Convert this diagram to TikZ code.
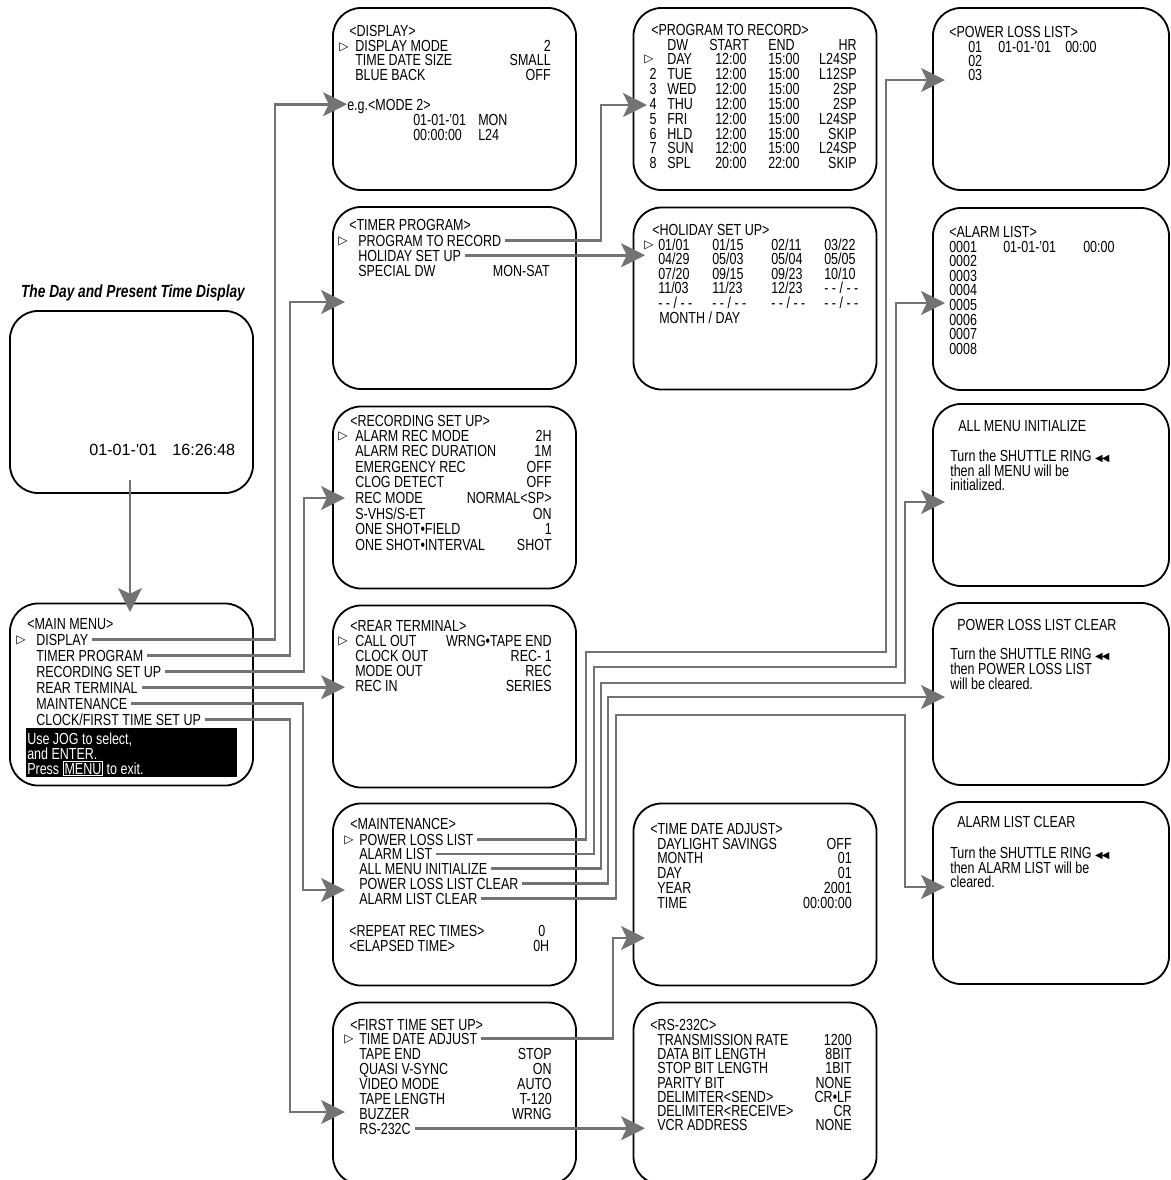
\documentclass[tikz,border=0pt]{standalone}
\usepackage{fontspec}
\setmainfont[FakeStretch=0.78]{Liberation Sans}
\newfontfamily\glyphfont{DejaVu Sans}
\newfontfamily\widefont{Liberation Sans}
\usetikzlibrary{arrows.meta}

\newcommand\ringsym{{\glyphfont\fontsize{7}{8}\selectfont ◀\kern-0.5pt◀}}

\tikzset{
  screen/.style={draw, line width=1.3pt, rounded corners=20pt,
    minimum width=6.075cm, minimum height=4.55cm, inner sep=0pt},
  sidescreen/.style={screen, minimum width=5.9cm},
  item/.style={anchor=base west, inner sep=0pt, text height=8.2pt, text depth=0pt},
  val/.style={item, anchor=base east},
  cursor/.style={inner sep=0pt, font=\glyphfont\fontsize{8.5}{9}\selectfont},
  link/.style={draw=black!55, line width=1.9pt, shorten <=2.5pt},
  into/.style={link, -{Stealth[length=17pt, width=17pt, inset=4pt]}},
}

\begin{document}
\begin{tikzpicture}[x=0.025cm, y=-0.025cm, font=\fontsize{11.4}{13}\selectfont]
\useasboundingbox (0,0) rectangle (1171,1180);

%-- screens
\node[screen] (day)   at (131.5, 402)    {};
\node[screen] (mainm) at (131.5, 694.5)  {};
\node[screen] (disp)  at (454.5, 99)     {};
\node[screen] (timer) at (454.5, 298)    {};
\node[screen] (recs)  at (454.5, 497.5)  {};
\node[screen] (rear)  at (454.5, 696.5)  {};
\node[screen] (maint) at (454.5, 894.5)  {};
\node[screen] (first) at (454.5, 1093.5) {};
\node[screen] (prog)  at (755, 99)       {};
\node[screen] (holi)  at (755, 298.5)    {};
\node[screen] (tda)   at (755, 894.5)    {};
\node[screen] (rs)    at (755, 1093.5)   {};
\node[sidescreen] (pll)   at (1051, 99)  {};
\node[sidescreen] (alist) at (1051, 299) {};
\node[sidescreen] (ami)   at (1051, 495) {};
\node[sidescreen] (pllc)  at (1051, 694) {};
\node[sidescreen] (alc)   at (1051, 893) {};

%-- day and present time display
\node[font=\bfseries\itshape\fontsize{12.5}{14}\selectfont] (day-title) at (133,293)
  {The Day and Present Time Display};
\node[item, font=\widefont\fontsize{11.5}{13}\selectfont] (day-date) at (89,455) {01-01-'01};
\node[item, font=\widefont\fontsize{11.5}{13}\selectfont] (day-time) at (172,455) {16:26:48};

%-- main menu
\node[item] (mm-title) at (27,629) {<MAIN MENU>};
\node[cursor] (mm-cur) at (21,640) {▷};
\foreach \t [count=\i] in {DISPLAY, TIMER PROGRAM, RECORDING SET UP, REAR TERMINAL,
    MAINTENANCE, CLOCK/FIRST TIME SET UP}
  \node[item] (mm\i) at (36, 629+16*\i) {\t};
\fill[black] (26,728) rectangle (237,777);
\node[item, text=white] (mm-hint1) at (27,744) {Use JOG to select,};
\node[item, text=white] (mm-hint2) at (27,759) {and ENTER.};
\node[item, text=white] (mm-hint3) at (27,774)
  {Press \setlength{\fboxsep}{0.6pt}\setlength{\fboxrule}{0.7pt}\fcolorbox{white}{black}{MENU} to exit.};

%-- display
\node[item] (d-title) at (349,36.5) {<DISPLAY>};
\node[cursor] (d-cur) at (344,47) {▷};
\foreach \t/\v [count=\i] in {DISPLAY MODE/2, TIME DATE SIZE/SMALL, BLUE BACK/OFF} {
  \node[item] (d\i)  at (355, 36.5+14.7*\i) {\t};
  \node[val]  (dv\i) at (551, 36.5+14.7*\i) {\v};
}
\node[item] (d-eg)  at (347,110) {e.g.<MODE 2>};
\node[item] (d-eg1) at (413,125) {01-01-'01};
\node[item] (d-eg2) at (478,125) {MON};
\node[item] (d-eg3) at (413,140) {00:00:00};
\node[item] (d-eg4) at (478,140) {L24};

%-- timer program
\node[item] (t-title) at (349,230) {<TIMER PROGRAM>};
\node[cursor] (t-cur) at (343,241) {▷};
\foreach \t/\v [count=\i] in {PROGRAM TO RECORD/, HOLIDAY SET UP/, SPECIAL DW/MON-SAT} {
  \node[item] (t\i)  at (358, 231+15*\i) {\t};
  \node[val]  (tv\i) at (550, 231+15*\i) {\v};
}

%-- recording set up
\node[item] (r-title) at (350,426) {<RECORDING SET UP>};
\node[cursor] (r-cur) at (343,436) {▷};
\foreach \t/\v [count=\i] in {ALARM REC MODE/2H, ALARM REC DURATION/1M, EMERGENCY REC/OFF,
    CLOG DETECT/OFF, REC MODE/NORMAL<SP>, {S-VHS/S-ET}/ON, ONE SHOT•FIELD/1,
    ONE SHOT•INTERVAL/SHOT} {
  \node[item] (r\i)  at (355, 425.4+15.6*\i) {\t};
  \node[val]  (rv\i) at (552, 425.4+15.6*\i) {\v};
}

%-- rear terminal
\node[item] (rt-title) at (350,631) {<REAR TERMINAL>};
\node[cursor] (rt-cur) at (343,641) {▷};
\foreach \t/\v [count=\i] in {CALL OUT/WRNG•TAPE END, CLOCK OUT/REC- 1, MODE OUT/REC, REC IN/SERIES} {
  \node[item] (rt\i)  at (355, 631+15*\i) {\t};
  \node[val]  (rtv\i) at (552, 631+15*\i) {\v};
}

%-- maintenance
\node[item] (m-title) at (350,829) {<MAINTENANCE>};
\node[cursor] (m-cur) at (349,840) {▷};
\foreach \t [count=\i] in {POWER LOSS LIST, ALARM LIST, ALL MENU INITIALIZE,
    POWER LOSS LIST CLEAR, ALARM LIST CLEAR}
  \node[item] (m\i) at (359, 830.25+14.75*\i) {\t};
\node[item] (m-rep)   at (349,936) {<REPEAT REC TIMES>};
\node[item] (m-repv)  at (538,936) {0};
\node[item] (m-ela)   at (349,951) {<ELAPSED TIME>};
\node[item] (m-elav)  at (533,951) {0H};

%-- first time set up
\node[item] (f-title) at (350,1030) {<FIRST TIME SET UP>};
\node[cursor] (f-cur) at (349,1039) {▷};
\foreach \t/\v [count=\i] in {TIME DATE ADJUST/, TAPE END/STOP, QUASI V-SYNC/ON, VIDEO MODE/AUTO,
    TAPE LENGTH/T-120, BUZZER/WRNG, RS-232C/} {
  \node[item] (f\i)  at (359, 1029+15*\i) {\t};
  \node[val]  (fv\i) at (552, 1029+15*\i) {\v};
}

%-- program to record
\node[item] (p-title) at (651,35) {<PROGRAM TO RECORD>};
\node[item] (p-dw)    at (667,50) {DW};
\node[item] (p-start) at (709,50) {START};
\node[item] (p-end)   at (768,50) {END};
\node[val]  (p-hr)    at (857,50) {HR};
\node[cursor] (p-cur) at (649,59.5) {▷};
\foreach \n/\d/\s/\e/\h [count=\i] in {/DAY/12:00/15:00/L24SP, 2/TUE/12:00/15:00/L12SP,
    3/WED/12:00/15:00/2SP, 4/THU/12:00/15:00/2SP, 5/FRI/12:00/15:00/L24SP,
    6/HLD/12:00/15:00/SKIP, 7/SUN/12:00/15:00/L24SP, 8/SPL/20:00/22:00/SKIP} {
  \node[item, anchor=base] (p\i-n) at (653, 50+14.85*\i) {\n};
  \node[item] (p\i-d) at (667, 50+14.85*\i) {\d};
  \node[item] (p\i-s) at (715, 50+14.85*\i) {\s};
  \node[item] (p\i-e) at (768, 50+14.85*\i) {\e};
  \node[val]  (p\i-h) at (857, 50+14.85*\i) {\h};
}

%-- holiday set up
\node[item] (h-title) at (652,235) {<HOLIDAY SET UP>};
\node[cursor] (h-cur) at (649,245) {▷};
\foreach \a/\b/\c/\d [count=\i] in {{01/01}/{01/15}/{02/11}/{03/22},
    {04/29}/{05/03}/{05/04}/{05/05}, {07/20}/{09/15}/{09/23}/{10/10},
    {11/03}/{11/23}/{12/23}/{- - / - -}, {- - / - -}/{- - / - -}/{- - / - -}/{- - / - -}} {
  \node[item] (h\i-1) at (658, 235.4+14.6*\i) {\a};
  \node[item] (h\i-2) at (712, 235.4+14.6*\i) {\b};
  \node[item] (h\i-3) at (771, 235.4+14.6*\i) {\c};
  \node[item] (h\i-4) at (824, 235.4+14.6*\i) {\d};
}
\node[item] (h-md) at (659,323) {MONTH / DAY};

%-- time date adjust
\node[item] (a-title) at (650,834) {<TIME DATE ADJUST>};
\foreach \t/\v [count=\i] in {DAYLIGHT SAVINGS/OFF, MONTH/01, DAY/01, YEAR/2001, TIME/00:00:00} {
  \node[item] (a\i)  at (657, 834.25+14.75*\i) {\t};
  \node[val]  (av\i) at (852, 834.25+14.75*\i) {\v};
}

%-- rs-232c
\node[item] (s-title) at (650,1030) {<RS-232C>};
\foreach \t/\v [count=\i] in {TRANSMISSION RATE/1200, DATA BIT LENGTH/8BIT, STOP BIT LENGTH/1BIT,
    PARITY BIT/NONE, DELIMITER<SEND>/CR•LF, DELIMITER<RECEIVE>/CR, VCR ADDRESS/NONE} {
  \node[item] (s\i)  at (657, 1030.67+14.33*\i) {\t};
  \node[val]  (sv\i) at (852, 1030.67+14.33*\i) {\v};
}

%-- power loss list
\node[item] (pl-title) at (949,37) {<POWER LOSS LIST>};
\node[item] (pl1)  at (968,52)  {01};
\node[item] (pl1d) at (998,52)  {01-01-'01};
\node[item] (pl1t) at (1065,52) {00:00};
\node[item] (pl2)  at (968,66)  {02};
\node[item] (pl3)  at (968,80)  {03};

%-- alarm list
\node[item] (al-title) at (949,237) {<ALARM LIST>};
\foreach \i in {1,...,8}
  \node[item] (al\i) at (949, 237.4+14.6*\i) {000\i};
\node[item] (al1d) at (1003,252) {01-01-'01};
\node[item] (al1t) at (1083,252) {00:00};

%-- shuttle ring screens
\node[item] (ami-title) at (958,431) {ALL MENU INITIALIZE};
\node[item] (ami1) at (950,461) {Turn the SHUTTLE RING \ringsym};
\node[item] (ami2) at (950,476) {then all MENU will be};
\node[item] (ami3) at (950,490) {initialized.};
\node[item] (pc-title) at (957,630) {POWER LOSS LIST CLEAR};
\node[item] (pc1) at (950,659) {Turn the SHUTTLE RING \ringsym};
\node[item] (pc2) at (950,674) {then POWER LOSS LIST};
\node[item] (pc3) at (950,689) {will be cleared.};
\node[item] (ac-title) at (957,827) {ALARM LIST CLEAR};
\node[item] (ac1) at (950,858) {Turn the SHUTTLE RING \ringsym};
\node[item] (ac2) at (950,873) {then ALARM LIST will be};
\node[item] (ac3) at (950,887) {cleared.};

%-- arrow targets
\coordinate (day-out)  at (130,480);
\coordinate (mm-in)    at (130,612);
\coordinate (in-timer) at (345,302);
\coordinate (in-recs)  at (345,498);
\coordinate (in-rear)  at (345,688);
\coordinate (in-maint) at (345,890);
\coordinate (in-first) at (345,1112);
\coordinate (in-prog)  at (647,105);
\coordinate (in-holi)  at (645,255);
\coordinate (in-tda)   at (645,938);
\coordinate (in-rs)    at (645,1128);
\coordinate (in-pll)   at (945,80);
\coordinate (in-alist) at (945,303);
\coordinate (in-ami)   at (945,502);
\coordinate (in-pllc)  at (945,697);
\coordinate (in-alc)   at (945,887);

%-- connectors
\draw[into, shorten <=0pt] (day-out) -- (mm-in);
\draw[into] (mm1.east) -| (275,0 |- d-eg.west) -- (d-eg.west);
\draw[into] (mm2.east) -| (290,0 |- in-timer) -- (in-timer);
\draw[into] (mm3.east) -| (304,0 |- in-recs) -- (in-recs);
\draw[into] (mm4.east) -- (mm4.east -| in-rear);
\draw[into] (mm5.east) -| (303,0 |- in-maint) -- (in-maint);
\draw[into] (mm6.east) -| (290,0 |- in-first) -- (in-first);

\draw[into] (t1.east) -| (601,0 |- in-prog) -- (in-prog);
\draw[into] (t2.east) -- (t2.east -| in-holi);

\draw[into] (m1.east) -| (586,652) -| (886,0 |- in-pll) -- (in-pll);
\draw[into] (m2.east) -| (594,667) -| (896,0 |- in-alist) -- (in-alist);
\draw[into] (m3.east) -| (601,683) -| (905,0 |- in-ami) -- (in-ami);
\draw[into] (m4.east) -| (608,0 |- in-pllc) -- (in-pllc);
\draw[into] (m5.east) -| (616,715) -| (905,0 |- in-alc) -- (in-alc);

\draw[into] (f1.east) -| (613,0 |- in-tda) -- (in-tda);
\draw[into] (f7.east) -- (f7.east -| in-rs);

\end{tikzpicture}
\end{document}
